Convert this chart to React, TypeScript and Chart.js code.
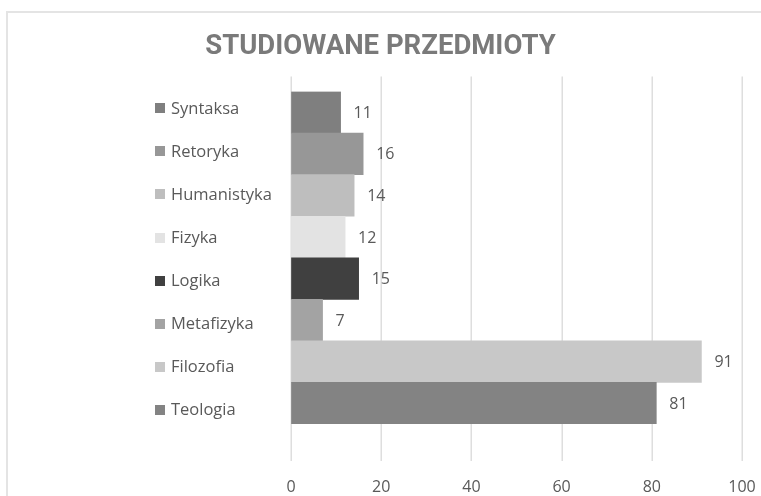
import React, { useEffect, useRef } from "react";
import { Chart, registerables } from "chart.js";

Chart.register(...registerables);

const TITLE = "STUDIOWANE PRZEDMIOTY";
const categories = ["Syntaksa", "Retoryka", "Humanistyka", "Fizyka", "Logika", "Metafizyka", "Filozofia", "Teologia"];
const values = [11, 16, 14, 12, 15, 7, 91, 81];
const barColors = ["#7f7f7f", "#979797", "#bebebe", "#e3e3e3", "#404040", "#a3a3a3", "#c8c8c8", "#838383"];
const xTicks = [0, 20, 40, 60, 80, 100];

const TEXT = "#595959";
const GRID = "#dedede";

export default function App() {
  const ref = useRef<HTMLCanvasElement | null>(null);

  useEffect(() => {
    if (!ref.current) return;

    const extGrid = {
      id: "extGrid",
      beforeDatasetsDraw(chart: any) {
        const { ctx, chartArea, scales } = chart;
        const x = scales.x;
        ctx.save();
        ctx.strokeStyle = GRID;
        ctx.lineWidth = 1.5;
        for (const t of xTicks) {
          const px = Math.round(x.getPixelForValue(t)) + 0.25;
          ctx.beginPath();
          ctx.moveTo(px, chartArea.top - 15);
          ctx.lineTo(px, chartArea.bottom + 37);
          ctx.stroke();
        }
        ctx.restore();
      },
    };

    const valueLabels = {
      id: "valueLabels",
      afterDatasetsDraw(chart: any) {
        const { ctx } = chart;
        const meta = chart.getDatasetMeta(0);
        ctx.save();
        ctx.font = "16px 'Open Sans'";
        ctx.fillStyle = TEXT;
        ctx.textAlign = "left";
        ctx.textBaseline = "middle";
        meta.data.forEach((bar: any, i: number) => {
          ctx.fillText(String(values[i]), bar.x + 13, bar.y + 1);
        });
        ctx.restore();
      },
    };

    const sideLegend = {
      id: "sideLegend",
      afterDraw(chart: any) {
        const { ctx, chartArea } = chart;
        const center = (chartArea.top + chartArea.bottom) / 2 + 1.25;
        const step = 43.07;
        ctx.save();
        ctx.font = "16.5px 'Open Sans'";
        ctx.textAlign = "left";
        ctx.textBaseline = "middle";
        categories.forEach((name, i) => {
          const cy = center + (i - (categories.length - 1) / 2) * step;
          ctx.fillStyle = barColors[i];
          ctx.fillRect(155, Math.round(cy - 5), 10, 10);
          ctx.fillStyle = TEXT;
          ctx.fillText(name, 171, cy + 1);
        });
        ctx.restore();
      },
    };

    const chart = new Chart(ref.current, {
      type: "bar",
      data: {
        labels: categories,
        datasets: [
          {
            data: values,
            backgroundColor: barColors,
            borderWidth: 0,
            categoryPercentage: 1,
            barPercentage: 1,
          },
        ],
      },
      options: {
        indexAxis: "y",
        responsive: false,
        devicePixelRatio: 1,
        animation: false,
        layout: { padding: { left: 19, right: 19, top: 21, bottom: 0 } },
        plugins: {
          legend: { display: false },
          tooltip: { enabled: false },
          title: {
            display: true,
            text: TITLE,
            color: "#7a7a7a",
            font: { family: "Roboto", weight: "bold", size: 27.5 },
            padding: { top: 10, bottom: 27.6 },
          },
        },
        scales: {
          x: {
            type: "linear",
            min: 0,
            max: 100,
            grid: {
              display: true,
              drawOnChartArea: false,
              drawTicks: true,
              tickLength: 54,
              tickColor: "rgba(0,0,0,0)",
            },
            border: { display: false },
            ticks: {
              stepSize: 20,
              color: TEXT,
              padding: 0,
              font: { family: "'Open Sans'", size: 16 },
            },
            afterFit: (scale: any) => {
              scale.height = 72;
            },
          },
          y: {
            type: "category",
            display: true,
            grid: { display: false },
            border: { display: false },
            ticks: { display: false },
            afterFit: (scale: any) => {
              scale.width = 272;
            },
          },
        },
      },
      plugins: [extGrid, valueLabels, sideLegend],
    } as any);

    return () => chart.destroy();
  }, []);

  return (
    <div
      style={{
        position: "fixed",
        left: 0,
        top: 0,
        width: 761,
        height: 496,
        overflow: "hidden",
        background: "#ffffff",
      }}
    >
      <div
        style={{
          position: "absolute",
          left: 6,
          top: 11,
          width: 800,
          height: 600,
          border: "2px solid #e4e4e4",
        }}
      />
      <canvas ref={ref} width={761} height={496} style={{ position: "absolute", left: 0, top: 0 }} />
    </div>
  );
}
